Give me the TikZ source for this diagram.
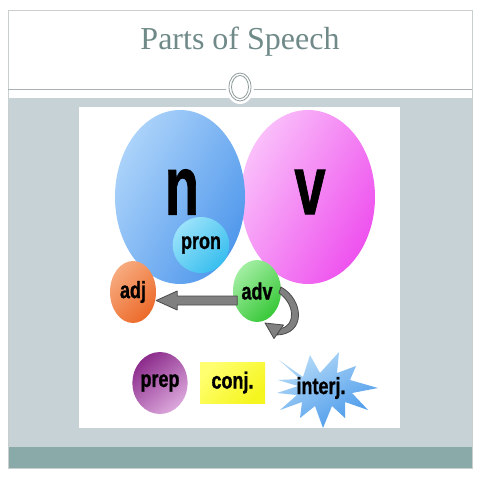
\documentclass[tikz,border=0pt]{standalone}
\usepackage{fontspec}
\usepackage{graphicx}
\newfontfamily\titlefont{Liberation Serif}
\newfontfamily\labfont{Liberation Sans}[BoldFeatures={FakeBold=1.2}]
\usetikzlibrary{shapes.geometric,calc}
\definecolor{band}{HTML}{C7D2D7}
\definecolor{tealband}{HTML}{8AAAAA}
\definecolor{framegray}{HTML}{C9CFCF}
\definecolor{linegray}{HTML}{A9B2B2}
\definecolor{ringgray}{HTML}{8E9A9A}
\definecolor{titlecol}{HTML}{6F8A88}
\definecolor{arrowfill}{HTML}{808080}
\definecolor{arrowline}{HTML}{4A4A4A}
\definecolor{blueL}{HTML}{ACD3FA}
\definecolor{blueD}{HTML}{5098EC}
\definecolor{pinkL}{HTML}{FAC0FA}
\definecolor{pinkD}{HTML}{EE50EE}
\definecolor{cyanL}{HTML}{9AE2FA}
\definecolor{cyanD}{HTML}{38BEEE}
\definecolor{orangeL}{HTML}{F7AA7E}
\definecolor{orangeD}{HTML}{EC6A2A}
\definecolor{greenL}{HTML}{A2EEA2}
\definecolor{greenD}{HTML}{38C838}
\definecolor{purpleD}{HTML}{8C2C8C}
\definecolor{purpleL}{HTML}{DCA8DC}
\definecolor{yellowL}{HTML}{FFFF70}
\definecolor{yellowD}{HTML}{F5F520}
\definecolor{starL}{HTML}{B4DAF8}
\definecolor{starD}{HTML}{4898EA}
\newcommand\tallt[1]{\scalebox{1}[1.3]{#1}}
\newcommand\bigt[1]{\scalebox{1}[1.5]{#1}}
\tikzset{
  bubble/.style={ellipse, inner sep=0pt, draw=none},
  lab/.style={font=\labfont\bfseries\fontsize{18}{18}\selectfont, text=black},
  biglab/.style={font=\labfont\bfseries\fontsize{56}{56}\selectfont, text=black, inner sep=0pt},
  blockarrow/.style={fill=arrowfill, draw=arrowline, line width=0.8pt, line join=round},
}
\begin{document}
\begin{tikzpicture}[x=1pt,y=-1pt]
\useasboundingbox (0,0) rectangle (480,480);
\fill[white] (0,0) rectangle (480,480);
% slide frame and bands
\fill[band] (8,98) rectangle (472,447);
\fill[tealband] (8,447) rectangle (472,468);
\draw[framegray, line width=0.8pt] (8,10) rectangle (472,468);
\draw[linegray, line width=0.8pt] (8,89) -- (472,89);
% title
\node[font=\titlefont\fontsize{32}{32}\selectfont, text=titlecol, anchor=base, inner sep=0pt] (title) at (240,49) {Parts of Speech};
% ornament
\node[ellipse, fill=white, minimum width=28pt, minimum height=34pt, inner sep=0pt] (orn) at (240,87) {};
\draw[ringgray, line width=0.8pt] (orn.center) ellipse [x radius=11pt, y radius=14pt];
\draw[ringgray, line width=0.8pt] (orn.center) ellipse [x radius=8.5pt, y radius=11.5pt];
% white panel
\fill[white] (79,107) rectangle (400,428);
% main circles
\node[bubble, minimum width=134pt, minimum height=174pt, top color=pinkL, bottom color=pinkD, shading angle=60] (vc) at (308,197) {};
\node[bubble, minimum width=130pt, minimum height=174pt, top color=blueL, bottom color=blueD, shading angle=60] (nc) at (180,197) {};
\node[biglab] (ntext) at (182,192) {\bigt{n}};
\node[biglab] (vtext) at (310,192) {\bigt{v}};
\node[bubble, lab, minimum width=48pt, minimum height=56pt, top color=cyanL, bottom color=cyanD, shading angle=45] (pron) at (201,245) {\tallt{pron}};
% adj / adv
\node[bubble, lab, minimum width=46pt, minimum height=62pt, top color=orangeL, bottom color=orangeD, shading angle=45] (adj) at (133,292) {\tallt{adj}};
\node[bubble, lab, minimum width=48pt, minimum height=62pt, top color=greenL, bottom color=greenD, shading angle=45] (adv) at (257,291) {\tallt{adv}};
% straight block arrow adv -> adj
\path[blockarrow] ($(adj.east)+(0,8.5)$) -- ++(21,-9.5) -- ++(0,5) -- ++(60,0) -- ++(0,9) -- ++(-60,0) -- ++(0,5) -- cycle;
% curved arrow adv -> adv
\begin{scope}[shift={(adv.center)}]
\path[blockarrow] (24,-4) .. controls (47,9) and (49,43) .. (20,44) -- (23.5,37.5) .. controls (39,35) and (38,13) .. (22,2) -- cycle;
\path[blockarrow] (8,32) -- (26.5,34) -- (17,47.5) -- cycle;
\end{scope}
% bottom row
\node[bubble, lab, minimum width=46pt, minimum height=62pt, top color=purpleD, bottom color=purpleL, shading angle=40] (prep) at (160,383) {\tallt{prep}};
\node[lab, minimum width=65pt, minimum height=41pt, inner sep=0pt, top color=yellowL, bottom color=yellowD, shading angle=45] (conj) at (232.5,382.5) {\tallt{conj.}};
\path[top color=starL, bottom color=starD, shading angle=30]
  (279,360) -- (303,377) -- (310,355) -- (320,373) -- (339,352) -- (337,373) -- (356,366) -- (350,380)
  -- (378,388) -- (352,393) -- (368,410) -- (345,402) -- (345,418) -- (332,406) -- (323,428) -- (315,406)
  -- (300,418) -- (302,402) -- (280,410) -- (297,395) -- (277,393) -- (298,386) -- (278,380) -- (300,379) -- cycle;
\node[lab, inner sep=0pt] (interj) at (321,388) {\tallt{interj.}};
\end{tikzpicture}
\end{document}
